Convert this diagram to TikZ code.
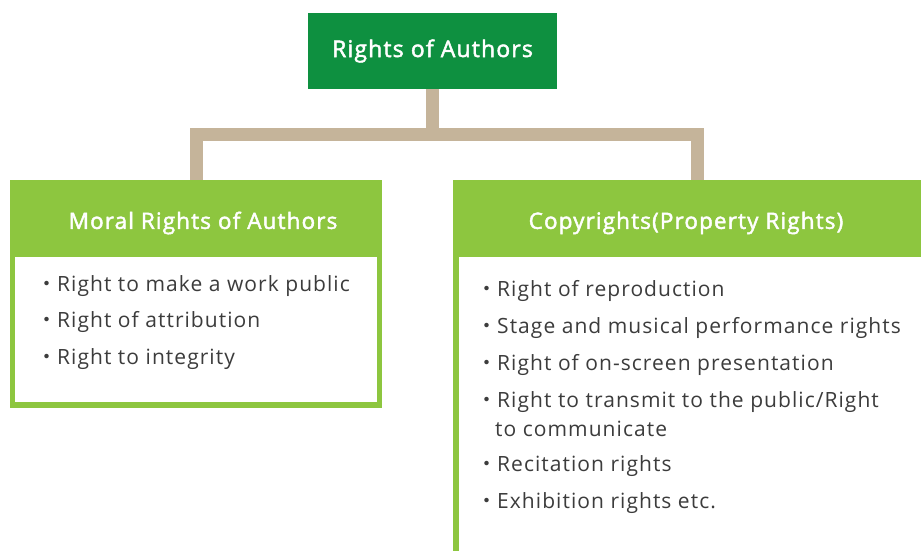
\documentclass[tikz,border=0pt]{standalone}
\usepackage{fontspec}
\setmainfont{Open Sans}[LetterSpace=5]
\newfontfamily\medfont{Open Sans}[FakeBold=2,LetterSpace=5]
\newfontfamily\cjk{Noto Sans CJK JP}
\newcommand{\bul}{{\cjk ・}}
\definecolor{topgreen}{HTML}{0E9040}
\definecolor{lightgreen}{HTML}{8DC63F}
\definecolor{tan}{HTML}{C5B49A}
\definecolor{itemgray}{HTML}{3C3C3C}
\begin{document}
\begin{tikzpicture}[x=1pt,y=-1pt,
  conn/.style={draw=tan,line width=13pt,line join=miter},
  topbox/.style={fill=topgreen,text=white,minimum width=249pt,minimum height=76pt,inner sep=0pt,font=\medfont\fontsize{23}{26}\selectfont},
  panel/.style={fill=lightgreen,inner sep=0pt},
  head/.style={text=white,font=\medfont\fontsize{22.5}{26}\selectfont,inner sep=0pt},
  item/.style={text=itemgray,anchor=west,inner sep=0pt,font=\fontsize{21}{24}\selectfont}]
\useasboundingbox (0,0) rectangle (921,551);
\clip (0,0) rectangle (921,551);
% panels
\node[panel,minimum width=372pt,minimum height=228pt] (moral) at (196,294) {};
\fill[white] (15,257) rectangle (377,402);
\node[panel,minimum width=489pt,minimum height=420pt] (copy) at (697.5,390) {};
\fill[white] (459,257) rectangle (936,594);
\node[topbox] (top) at (432.5,51) {Rights of Authors};
% connectors
\coordinate (bar) at (432.5,134.5);
\draw[conn] (top.south) -- (bar);
\draw[conn] (moral.north) |- (bar) -| (copy.north);
% headers
\node[head] (mh) at (203,223) {Moral Rights of Authors};
\node[head] (ch) at (686,223) {Copyrights(Property Rights)};
% items left
\node[item] (m1) at (36,286) {\bul Right to make a work public};
\node[item] (m2) at (36,322) {\bul Right of attribution};
\node[item] (m3) at (36,359) {\bul Right to integrity};
% items right
\node[item] (c1) at (476,291) {\bul Right of reproduction};
\node[item] (c2) at (476,328) {\bul Stage and musical performance rights};
\node[item] (c3) at (476,365) {\bul Right of on-screen presentation};
\node[item] (c4) at (476,402) {\bul Right to transmit to the public/Right};
\node[item] (c4b) at (495,429) {to communicate};
\node[item] (c5) at (476,466) {\bul Recitation rights};
\node[item] (c6) at (476,503) {\bul Exhibition rights etc.};
\end{tikzpicture}
\end{document}
